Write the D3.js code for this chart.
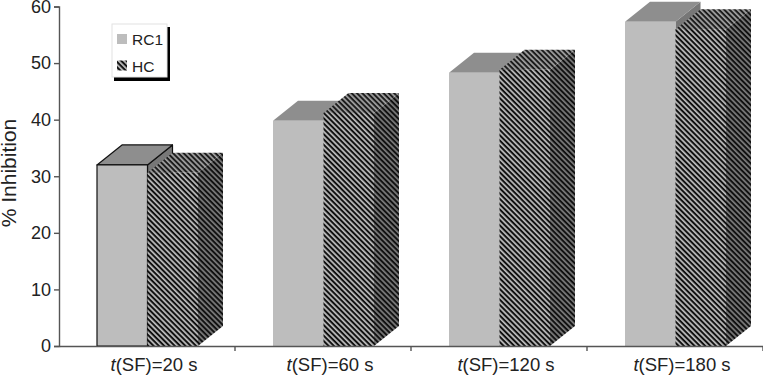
<!DOCTYPE html>
<html>
<head>
<meta charset="utf-8">
<script src="https://cdn.jsdelivr.net/npm/d3@7"></script>
<style>
html, body { margin: 0; padding: 0; background: #fff; }
svg { display: block; font-family: "Liberation Sans", Arial, sans-serif; }
</style>
</head>
<body>
<div id="chart"></div>
<script>
/*Values*/
var categories = ["20", "60", "120", "180"];
var seriesNames = ["RC1", "HC"];
var rc1Values = [32, 39.8, 48.3, 57.3];
var hcValues = [30.6, 41.2, 48.8, 56];
var yTicks = [0, 10, 20, 30, 40, 50, 60];

var canvasWidth = 763;
var canvasHeight = 375;
var depthX = 25;
var depthY = 20;
var axisColor = "#555";
var textColor = "#222";

var svg = d3.select("#chart")
    .append("svg")
    .attr("width", canvasWidth)
    .attr("height", canvasHeight)
    .attr("viewBox", "0 0 763 375");

/*Scales*/
var xScale = d3.scaleBand().domain(categories).range([59, 763]);
var barScale = d3.scaleBand().domain(seriesNames).range([38, 139]);
var yScale = d3.scaleLinear().domain([0, 60]).range([346, 6.5]);

/*Hatch patterns for the HC bars*/
var defs = svg.append("defs");
function hatch(id, light, dark) {
    var p = defs.append("pattern")
        .attr("id", id)
        .attr("patternUnits", "userSpaceOnUse")
        .attr("width", 3.75)
        .attr("height", 3.75)
        .attr("patternTransform", "rotate(45)");
    p.append("rect").attr("width", 3.75).attr("height", 3.75).attr("fill", light);
    p.append("rect").attr("width", 3.75).attr("height", 2).attr("fill", dark);
}
hatch("hatchFront", "#bcbcbc", "#111");
hatch("hatchTop", "#a0a0a0", "#1c1c1c");
hatch("hatchSide", "#7a7a7a", "#111");

var faces = {
    RC1: { front: "#bdbdbd", top: "#8e8e8e", side: "#777" },
    HC: { front: "url(#hatchFront)", top: "url(#hatchTop)", side: "url(#hatchSide)" }
};

/*One entry per bar, RC1 before HC so HC paints over it*/
var bars = [];
categories.forEach(function(c, i) {
    bars.push({ cat: c, series: "RC1", value: rc1Values[i], outlined: i === 0 });
    bars.push({ cat: c, series: "HC", value: hcValues[i], outlined: false });
});

function barLeft(d) { return xScale(d.cat) + barScale(d.series); }
function pts(list) { return list.map(function(p) { return p.join(","); }).join(" "); }

var barG = svg.append("g")
    .selectAll("g")
    .data(bars)
    .join("g")
    .attr("stroke", function(d) { return d.outlined ? "#111" : "none"; })
    .attr("stroke-width", 1.2)
    .attr("stroke-linejoin", "round");

/*Side face*/
barG.append("polygon")
    .attr("fill", function(d) { return faces[d.series].side; })
    .attr("points", function(d) {
        var r = barLeft(d) + barScale.bandwidth(), t = yScale(d.value), b = yScale(0);
        return pts([[r, t], [r + depthX, t - depthY], [r + depthX, b - depthY], [r, b]]);
    });

/*Top face*/
barG.append("polygon")
    .attr("fill", function(d) { return faces[d.series].top; })
    .attr("points", function(d) {
        var l = barLeft(d), r = l + barScale.bandwidth(), t = yScale(d.value);
        return pts([[l, t], [r, t], [r + depthX, t - depthY], [l + depthX, t - depthY]]);
    });

/*Front face*/
barG.append("rect")
    .attr("fill", function(d) { return faces[d.series].front; })
    .attr("x", barLeft)
    .attr("y", function(d) { return yScale(d.value); })
    .attr("width", barScale.bandwidth())
    .attr("height", function(d) { return yScale(0) - yScale(d.value); });

/*Y axis*/
var yAxis = svg.append("g")
    .attr("transform", "translate(59,0)")
    .call(d3.axisLeft(yScale).tickValues(yTicks).tickSize(5).tickPadding(3));
yAxis.selectAll("path, line").attr("stroke", axisColor).attr("stroke-width", 1.4);
yAxis.selectAll("text").attr("fill", textColor).attr("font-size", 18).attr("font-family", null);

svg.append("text")
    .attr("transform", "translate(16,173) rotate(-90)")
    .attr("text-anchor", "middle")
    .attr("font-size", 21)
    .attr("fill", textColor)
    .text("% Inhibition");

/*X axis, ticks sit between the groups*/
var xAxis = svg.append("g")
    .attr("transform", "translate(0,346)")
    .call(d3.axisBottom(xScale).tickSize(0).tickFormat(""));
xAxis.selectAll("path").attr("stroke", axisColor).attr("stroke-width", 1.4);

xAxis.selectAll(".boundary")
    .data(categories)
    .join("line")
    .attr("class", "boundary")
    .attr("x1", function(d) { return xScale(d) + xScale.step(); })
    .attr("x2", function(d) { return xScale(d) + xScale.step(); })
    .attr("y1", 0)
    .attr("y2", 5)
    .attr("stroke", axisColor)
    .attr("stroke-width", 1.4);

var xLabels = svg.append("g")
    .selectAll("text")
    .data(categories)
    .join("text")
    .attr("x", function(d) { return xScale(d) + 95; })
    .attr("y", 371)
    .attr("text-anchor", "middle")
    .attr("font-size", 18.5)
    .attr("fill", textColor);
xLabels.append("tspan").attr("font-style", "italic").text("t");
xLabels.append("tspan").text(function(d) { return "(SF)=" + d + " s"; });

/*Legend*/
var legend = svg.append("g").attr("transform", "translate(112,24)");
legend.append("rect")
    .attr("x", 2).attr("y", 3).attr("width", 56).attr("height", 54)
    .attr("fill", "#000");
legend.append("rect")
    .attr("width", 55).attr("height", 53)
    .attr("fill", "#fff")
    .attr("stroke", "#e2e2e2");

var legendRow = legend.selectAll(".row")
    .data(seriesNames)
    .join("g")
    .attr("class", "row")
    .attr("transform", function(d, i) { return "translate(5," + (10 + i * 26.5) + ")"; });
legendRow.append("rect")
    .attr("width", 10).attr("height", 10)
    .attr("fill", function(d) { return faces[d].front; });
legendRow.append("text")
    .attr("x", 15)
    .attr("y", 11)
    .attr("font-size", 15.5)
    .attr("fill", textColor)
    .text(function(d) { return d; });
</script>
</body>
</html>
